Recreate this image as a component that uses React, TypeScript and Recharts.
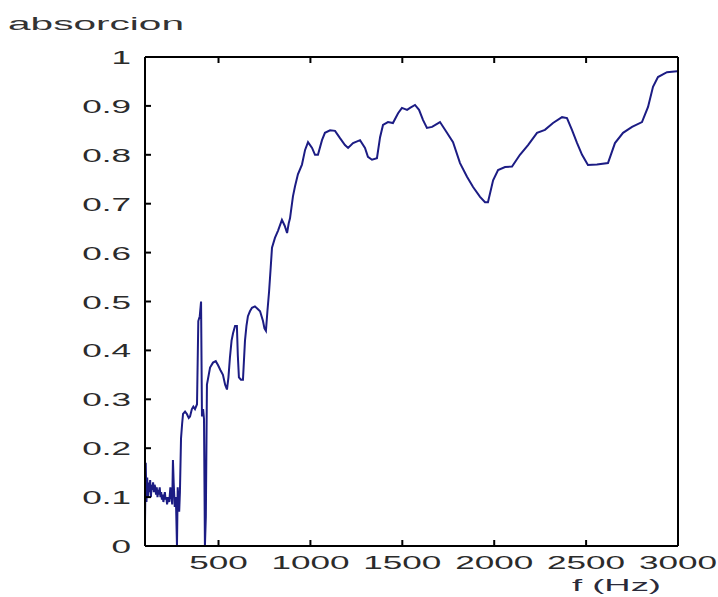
import React from 'react';
import { LineChart, Line, XAxis, YAxis } from 'recharts';

// frequency (Hz) and absorption
const FREQ = [
  100, 104, 108, 112, 116, 120, 124, 128, 132, 136, 140, 144, 148, 152, 156, 160, 164, 168, 172, 176,
  180, 184, 188, 192, 196, 200, 204, 208, 212, 216, 220, 226, 232, 238, 244, 248, 252, 256, 262, 268,
  274, 278, 282, 286, 290, 296, 302, 307, 318, 328, 338, 345, 355, 363, 372, 383, 390, 398, 405, 410,
  416, 421, 426, 431, 437, 454, 470, 485, 497, 510, 524, 536, 546, 554, 562, 571, 579, 590, 600, 605,
  611, 622, 633, 644, 652, 660, 671, 682, 698, 712, 726, 742, 750, 758, 766, 775, 784, 791, 807, 824,
  845, 860, 873, 882, 889, 905, 916, 932, 954, 971, 987, 1009, 1025, 1041, 1063, 1079, 1107, 1134, 1161, 1188,
  1205, 1232, 1270, 1297, 1313, 1335, 1362, 1379, 1395, 1422, 1449, 1477, 1498, 1526, 1542, 1569, 1591, 1613, 1634, 1662,
  1705, 1743, 1776, 1814, 1852, 1885, 1923, 1950, 1966, 1994, 2021, 2059, 2097, 2140, 2184, 2233, 2276, 2320, 2369, 2396,
  2423, 2451, 2478, 2510, 2559, 2619, 2657, 2701, 2750, 2804, 2837, 2864, 2891, 2940, 2995, 3000,
];
const ABSORCION = [
  0.05, 0.17, 0.09, 0.14, 0.1, 0.13, 0.11, 0.135, 0.1, 0.125, 0.115, 0.13, 0.11, 0.125, 0.12, 0.105, 0.12, 0.1, 0.115, 0.105,
  0.12, 0.1, 0.11, 0.095, 0.105, 0.09, 0.1, 0.11, 0.095, 0.1, 0.085, 0.1, 0.09, 0.12, 0.1, 0.085, 0.176, 0.13, 0.08, 0.1,
  0.0, 0.12, 0.09, 0.07, 0.11, 0.22, 0.25, 0.27, 0.275, 0.27, 0.262, 0.265, 0.28, 0.285, 0.28, 0.29, 0.46, 0.47, 0.5, 0.265,
  0.28, 0.26, 0.0, 0.06, 0.33, 0.365, 0.375, 0.378, 0.37, 0.36, 0.35, 0.33, 0.32, 0.345, 0.385, 0.42, 0.435, 0.45, 0.45, 0.39,
  0.345, 0.34, 0.34, 0.42, 0.45, 0.47, 0.48, 0.487, 0.49, 0.485, 0.48, 0.46, 0.445, 0.44, 0.48, 0.52, 0.57, 0.61, 0.63, 0.645,
  0.667, 0.655, 0.64, 0.66, 0.67, 0.715, 0.735, 0.76, 0.78, 0.81, 0.826, 0.814, 0.8, 0.8, 0.83, 0.845, 0.85, 0.849, 0.834, 0.82,
  0.814, 0.824, 0.83, 0.814, 0.796, 0.79, 0.793, 0.836, 0.861, 0.867, 0.865, 0.885, 0.896, 0.892, 0.896, 0.902, 0.892, 0.871, 0.855, 0.857,
  0.867, 0.845, 0.826, 0.783, 0.755, 0.734, 0.714, 0.703, 0.703, 0.748, 0.769, 0.775, 0.776, 0.8, 0.82, 0.845, 0.851, 0.865, 0.877, 0.875,
  0.851, 0.824, 0.8, 0.779, 0.78, 0.783, 0.824, 0.845, 0.857, 0.867, 0.898, 0.939, 0.959, 0.969, 0.971, 0.971,
];

const X_TICKS = [500, 1000, 1500, 2000, 2500, 3000];
const Y_TICKS = [0, 0.1, 0.2, 0.3, 0.4, 0.5, 0.6, 0.7, 0.8, 0.9, 1];
const Y_LABELS = ['0', '0.1', '0.2', '0.3', '0.4', '0.5', '0.6', '0.7', '0.8', '0.9', '1'];

const data = FREQ.map((f, i) => ({ f, a: ABSORCION[i] }));

const FONT = '"Liberation Sans", Arial, sans-serif';
const TXT = '#2b2b2b';
const STRETCH = 1.95;
const TICK = 6;

const BottomTick = (props: any) => {
  const { x, y, payload } = props;
  return (
    <g>
      <line x1={x} y1={y} x2={x} y2={y - TICK} stroke="#000" strokeWidth={2} />
      <text
        transform={`translate(${x},${y + 23}) scale(${STRETCH},1)`}
        textAnchor="middle"
        fontFamily={FONT}
        fontSize={18}
        fill={TXT}
      >
        {payload.value}
      </text>
    </g>
  );
};

const TopTick = (props: any) => {
  const { x, y } = props;
  return <line x1={x} y1={y} x2={x} y2={y + TICK} stroke="#000" strokeWidth={2} />;
};

const LeftTick = (props: any) => {
  const { x, y, payload } = props;
  const idx = Y_TICKS.indexOf(payload.value);
  return (
    <g>
      <line x1={x} y1={y} x2={x + TICK} y2={y} stroke="#000" strokeWidth={2} />
      <text
        transform={`translate(${x - 14},${y + 7}) scale(${STRETCH},1)`}
        textAnchor="end"
        fontFamily={FONT}
        fontSize={18}
        fill={TXT}
      >
        {Y_LABELS[idx]}
      </text>
    </g>
  );
};

const RightTick = (props: any) => {
  const { x, y } = props;
  return <line x1={x} y1={y} x2={x - TICK} y2={y} stroke="#000" strokeWidth={2} />;
};

const axisLine = { stroke: '#000', strokeWidth: 2 };

export default function App() {
  return (
    <div style={{ position: 'absolute', left: 0, top: 0, width: 718, height: 597, background: '#fff' }}>
      <LineChart width={718} height={597} data={data} margin={{ top: 50, right: 30, bottom: 21, left: 100 }}>
        <XAxis
          dataKey="f"
          type="number"
          domain={[100, 3000]}
          ticks={X_TICKS}
          allowDataOverflow
          height={30}
          tickSize={0}
          tickMargin={0}
          tickLine={false}
          axisLine={axisLine}
          tick={<BottomTick />}
          interval={0}
        />
        <XAxis
          xAxisId="top"
          orientation="top"
          dataKey="f"
          type="number"
          domain={[100, 3000]}
          ticks={X_TICKS}
          height={7}
          tickSize={0}
          tickMargin={0}
          tickLine={false}
          axisLine={axisLine}
          tick={<TopTick />}
          interval={0}
        />
        <YAxis
          type="number"
          domain={[0, 1]}
          ticks={Y_TICKS}
          width={45}
          tickSize={0}
          tickMargin={0}
          tickLine={false}
          axisLine={axisLine}
          tick={<LeftTick />}
          interval={0}
        />
        <YAxis
          yAxisId="right"
          orientation="right"
          type="number"
          domain={[0, 1]}
          ticks={Y_TICKS}
          width={10}
          tickSize={0}
          tickMargin={0}
          tickLine={false}
          axisLine={axisLine}
          tick={<RightTick />}
          interval={0}
        />
        <Line
          type="linear"
          dataKey="a"
          stroke="#1c1c84"
          strokeWidth={2}
          dot={false}
          isAnimationActive={false}
        />
      </LineChart>
      <svg width={718} height={597} style={{ position: 'absolute', left: 0, top: 0, pointerEvents: 'none' }}>
        <text x={8} y={30} fontFamily={FONT} fontSize={18} fill="#333" textLength={176} lengthAdjust="spacingAndGlyphs">
          absorcion
        </text>
        <text x={572} y={591} fontFamily={FONT} fontSize={17} fill="#2a2a3a" textLength={89} lengthAdjust="spacingAndGlyphs">
          f (Hz)
        </text>
      </svg>
    </div>
  );
}
